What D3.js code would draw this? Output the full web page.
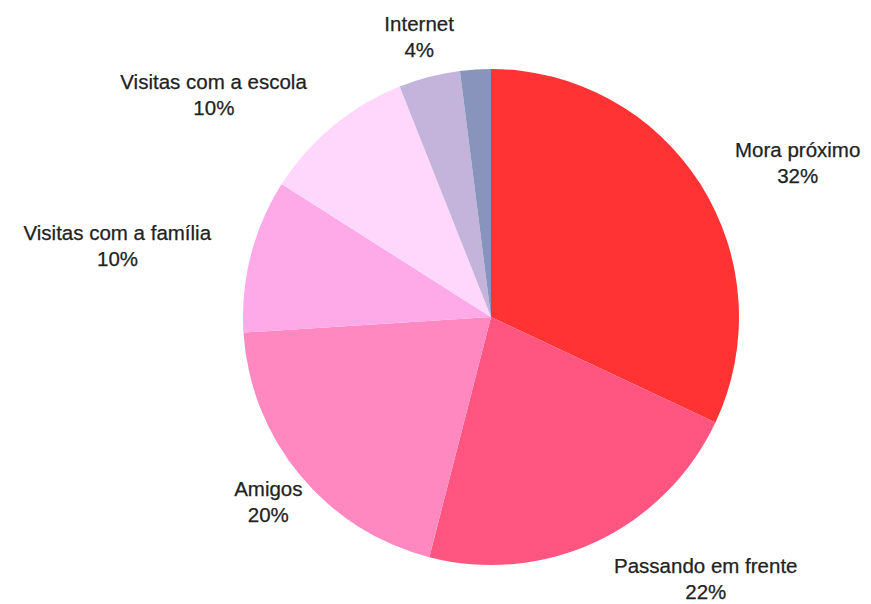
<!DOCTYPE html>
<html>
<head>
<meta charset="utf-8">
<script src="https://cdn.jsdelivr.net/npm/d3@7"></script>
<style>
  html, body { margin: 0; padding: 0; background: #ffffff; }
  svg { display: block; }
</style>
</head>
<body>
<svg id="chart" width="871" height="604"></svg>
<script>
// How visitors learned about the place (share of answers)
const categories = ["Mora próximo", "Passando em frente", "Amigos", "Visitas com a família", "Visitas com a escola", "Internet", ""];
const values = [32, 22, 20, 10, 10, 4, 2];
const valueLabels = ["32%", "22%", "20%", "10%", "10%", "4%", ""];
const colors = ["#ff3333", "#ff5580", "#ff88c0", "#ffaae8", "#ffd6fc", "#c4b4dc", "#8894bc"];

const width = 871, height = 604;
const cx = 491, cy = 317, radius = 248;
const labelRadius = radius + 41;
const fontSize = 20.5, lineGap = 26;

const svg = d3.select("#chart");
const g = svg.append("g").attr("transform", `translate(${cx},${cy})`);

const data = categories.map((c, i) => ({ name: c, value: values[i], label: valueLabels[i], color: colors[i] }));

const pie = d3.pie().value(d => d.value).sort(null);
const arc = d3.arc().innerRadius(0).outerRadius(radius);
const arcs = pie(data);

g.selectAll("path.slice")
  .data(arcs)
  .join("path")
  .attr("class", "slice")
  .attr("d", arc)
  .attr("fill", d => d.data.color);

// Labels sit on a ring outside the pie; horizontal alignment follows the side of the slice
function anchorFor(a) {
  const s = Math.sin(a), c = Math.cos(a);
  if (Math.abs(s) < 0.3) return "middle";
  if (s > 0) return "start";
  if (c < 0 && Math.abs(s) < 0.8) return "middle";
  return "end";
}

const labels = g.selectAll("g.label")
  .data(arcs.filter(d => d.data.name !== ""))
  .join("g")
  .attr("class", "label")
  .attr("transform", d => {
    const a = (d.startAngle + d.endAngle) / 2;
    return `translate(${Math.sin(a) * labelRadius},${-Math.cos(a) * labelRadius})`;
  });

labels.append("text")
  .attr("text-anchor", d => anchorFor((d.startAngle + d.endAngle) / 2))
  .attr("font-family", "'Liberation Sans', Arial, sans-serif")
  .attr("font-size", fontSize)
  .attr("fill", "#222222")
  .attr("stroke", "#222222")
  .attr("stroke-width", 0.25)
  .each(function(d) {
    const t = d3.select(this);
    t.append("tspan").attr("x", 0).attr("y", -lineGap / 2 + fontSize * 0.36).text(d.data.name);
    t.append("tspan").attr("class", "val").attr("y", lineGap / 2 + fontSize * 0.36).text(d.data.label);
  });

// centre the percentage under its category name
labels.each(function() {
  const t = d3.select(this).select("text");
  const bb = t.select("tspan").node().getBBox();
  t.select("tspan.val").attr("x", bb.x + bb.width / 2).attr("text-anchor", "middle");
});
</script>
</body>
</html>
